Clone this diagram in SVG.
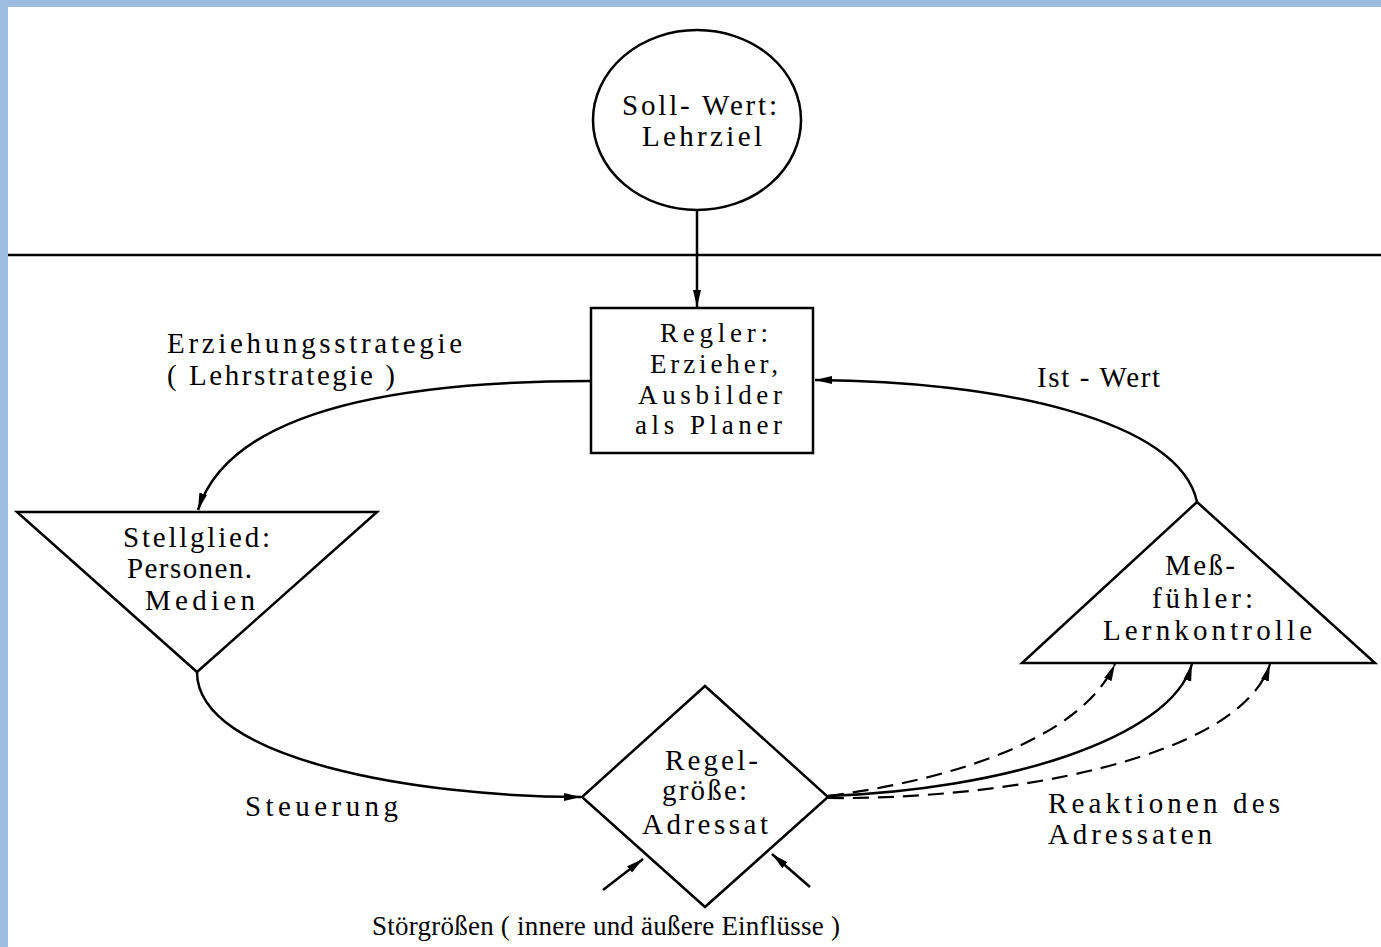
<svg xmlns="http://www.w3.org/2000/svg" width="1381" height="947" viewBox="0 0 1381 947">
  <style>
    .shape { fill: #ffffff; stroke: #000000; stroke-width: 2.5; stroke-linejoin: miter; }
    .line { fill: none; stroke: #000000; stroke-width: 2.5; }
    .dash { fill: none; stroke: #000000; stroke-width: 2.2; stroke-dasharray: 16 9; }
    text { font-family: "Liberation Serif", "Times New Roman", serif; font-size: 29px; fill: #000000; }
    .small { font-size: 27px; }
  </style>
  <defs>
    <marker id="arrow" markerUnits="userSpaceOnUse" markerWidth="18" markerHeight="9" refX="17" refY="4.5" orient="auto">
      <path d="M0,0.5 L17,4.5 L0,8.5 z" fill="#000000"/>
    </marker>
  </defs>

  <!-- page background and frame strips -->
  <rect x="0" y="0" width="1381" height="947" fill="#ffffff"/>
  <rect x="0" y="0" width="1381" height="7" fill="#9dbde0"/>
  <rect x="0" y="0" width="8" height="947" fill="#9dbde0"/>

  <!-- separator between set value and control loop -->
  <line class="line" x1="8" y1="255" x2="1381" y2="255"/>

  <!-- connectors -->
  <g id="connectors">
    <path class="line" d="M697,210 L697,307" marker-end="url(#arrow)"/>
    <path class="line" d="M591,381 C400,381 230,410 198,510" marker-end="url(#arrow)"/>
    <path class="line" d="M197,672 C197,760 420,797 581,797" marker-end="url(#arrow)"/>
    <path class="line" d="M1197,502 C1180,420 1000,381 815,380" marker-end="url(#arrow)"/>
    <path class="dash" d="M828,796 C950,780 1080,740 1115,664" marker-end="url(#arrow)"/>
    <path class="line" d="M828,796 C1000,790 1170,740 1192,664" marker-end="url(#arrow)"/>
    <path class="dash" d="M828,798 C1000,800 1240,760 1270,664" marker-end="url(#arrow)"/>
    <path class="line" d="M603,890 L643,859" marker-end="url(#arrow)"/>
    <path class="line" d="M810,887 L772,854" marker-end="url(#arrow)"/>
  </g>

  <!-- set value -->
  <g id="sollwert">
    <ellipse class="shape" cx="697" cy="120" rx="104" ry="90"/>
    <text x="622" y="115" textLength="155" lengthAdjust="spacing">Soll- Wert:</text>
    <text x="642" y="146" textLength="120" lengthAdjust="spacing">Lehrziel</text>
  </g>

  <!-- controller -->
  <g id="regler">
    <rect class="shape" x="591" y="308" width="222" height="145"/>
    <text class="small" x="660" y="342" textLength="108" lengthAdjust="spacing">Regler:</text>
    <text class="small" x="650" y="373" textLength="128" lengthAdjust="spacing">Erzieher,</text>
    <text class="small" x="638" y="404" textLength="144" lengthAdjust="spacing">Ausbilder</text>
    <text class="small" x="635" y="434" textLength="147" lengthAdjust="spacing">als Planer</text>
  </g>

  <!-- actuator -->
  <g id="stellglied">
    <polygon class="shape" points="17,512 377,512 197,672"/>
    <text x="123" y="547" textLength="147" lengthAdjust="spacing">Stellglied:</text>
    <text x="127" y="578" textLength="125" lengthAdjust="spacing">Personen.</text>
    <text x="145" y="610" textLength="110" lengthAdjust="spacing">Medien</text>
  </g>

  <!-- controlled variable -->
  <g id="regelgroesse">
    <polygon class="shape" points="705,686 828,797 705,907 582,797"/>
    <text x="665" y="770" textLength="93" lengthAdjust="spacing">Regel-</text>
    <text x="662" y="800" textLength="85" lengthAdjust="spacing">größe:</text>
    <text x="642" y="834" textLength="126" lengthAdjust="spacing">Adressat</text>
  </g>

  <!-- sensor -->
  <g id="messfuehler">
    <polygon class="shape" points="1197,502 1375,663 1022,663"/>
    <text x="1165" y="575" textLength="70" lengthAdjust="spacing">Meß-</text>
    <text x="1152" y="608" textLength="101" lengthAdjust="spacing">fühler:</text>
    <text x="1103" y="640" textLength="209" lengthAdjust="spacing">Lernkontrolle</text>
  </g>

  <!-- connector labels -->
  <g id="labels">
    <text x="167" y="353" textLength="295" lengthAdjust="spacing">Erziehungsstrategie</text>
    <text x="167" y="385" textLength="228" lengthAdjust="spacing">( Lehrstrategie )</text>
    <text x="1037" y="387" textLength="123" lengthAdjust="spacing">Ist - Wert</text>
    <text x="245" y="816" textLength="153" lengthAdjust="spacing">Steuerung</text>
    <text x="1048" y="813" textLength="232" lengthAdjust="spacing">Reaktionen des</text>
    <text x="1048" y="844" textLength="164" lengthAdjust="spacing">Adressaten</text>
    <text class="small" x="372" y="935" textLength="468" lengthAdjust="spacing">Störgrößen ( innere und äußere Einflüsse )</text>
  </g>
</svg>
